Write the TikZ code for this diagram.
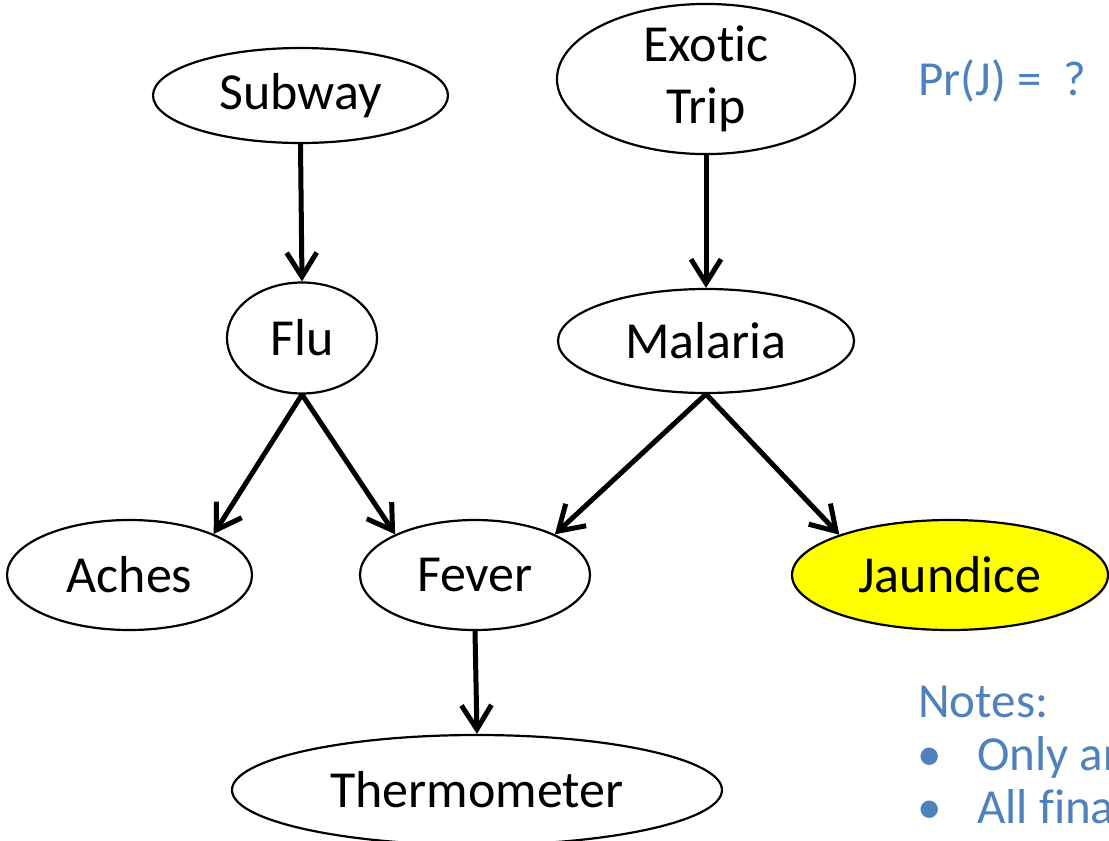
\documentclass[tikz,border=0pt]{standalone}
\usepackage{fontspec}
\setmainfont{Carlito}[Ligatures=NoCommon]
\usetikzlibrary{shapes.geometric,arrows.meta}
\definecolor{noteblue}{RGB}{79,129,189}
\definecolor{hilite}{RGB}{255,255,0}
\begin{document}
\begin{tikzpicture}[x=1pt,y=-1pt,
  var/.style={ellipse, draw, line width=2.2pt, inner sep=0pt, fill=white,
    font=\fontsize{52}{62}\selectfont, align=center},
  arr/.style={-{Straight Barb[length=24pt,width=30pt]}, line width=5pt},
  note/.style={anchor=base west, inner sep=0pt, text=noteblue,
    font=\fontsize{49}{62}\selectfont}]
\useasboundingbox (0,0) rectangle (1109,841);
\clip (0,0) rectangle (1109,841);

% network variables
\node[var, minimum width=295pt, minimum height=95pt]  (subway) at (300.5,95.5) {Subway};
\node[var, minimum width=298pt, minimum height=138pt] (exotic) at (706,79) {Exotic\\Trip};
\node[var, minimum width=150pt, minimum height=111pt] (flu)    at (302,338) {Flu};
\node[var, minimum width=296pt, minimum height=104pt] (malaria) at (706,341) {Malaria};
\node[var, minimum width=245pt, minimum height=110pt] (aches)  at (129.5,575) {Aches};
\node[var, minimum width=230pt, minimum height=110pt] (fever)  at (475,575) {Fever};
\node[var, minimum width=316pt, minimum height=110pt, fill=hilite] (jaundice) at (950,575) {Jaundice};
\node[var, minimum width=490pt, minimum height=110pt] (thermo) at (477,790) {Thermometer};

% dependencies
\draw[arr] (subway.south) -- (flu.north);
\draw[arr] (exotic.south) -- (malaria.north);
\draw[arr] (flu.south) -- (aches.26);
\draw[arr] (flu.south) -- (fever.153);
\draw[arr] (malaria.south) -- (fever.27);
\draw[arr] (malaria.south) -- (jaundice.160);
\draw[arr] (fever.south) -- (thermo.north);

% query and notes
\node[note] (query) at (918,95) {Pr(J) =\ \ ?};
\node[note] (notes) at (918,717) {Notes:};
\node[note] (b1) at (917,770) {•};
\node[note] (t1) at (977,770) {Only ar};
\node[note] (b2) at (917,823) {•};
\node[note] (t2) at (977,823) {All fina};
\end{tikzpicture}
\end{document}
